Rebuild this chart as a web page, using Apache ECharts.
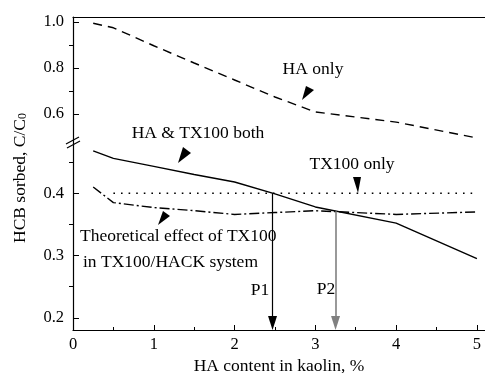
<!DOCTYPE html>
<html>
<head>
<meta charset="utf-8">
<script src="https://cdn.jsdelivr.net/npm/echarts@6/dist/echarts.min.js"></script>
<style>
  html, body { margin: 0; padding: 0; background: #fff; }
  #main { width: 485px; height: 373px; }
</style>
</head>
<body>
<div id="main"></div>
<script>
  // HA content in kaolin, %
  const haContent = [0.25, 0.5, 1, 1.5, 2, 2.5, 3, 4, 5]
  // C/C0 values
  const haOnly = [0.995, 0.975, 0.897, 0.822, 0.748, 0.674, 0.609, 0.565, 0.496]
  const haTxBoth = [0.468, 0.456, 0.443, 0.430, 0.418, 0.399, 0.378, 0.352, 0.295]
  const txOnly = [null, 0.4, 0.4, 0.4, 0.4, 0.4, 0.4, 0.4, 0.4]
  const theoretical = [0.41, 0.385, 0.377, 0.372, 0.366, 0.369, 0.372, 0.366, 0.370]
  // P1 / P2 crossing points
  const p1 = [2.47, 0.4]
  const p2 = [3.25, 0.371]

  const xTicks = [0, 1, 2, 3, 4, 5]
  const xMinor = [0.5, 1.5, 2.5, 3.5, 4.5]
  const yUpperTicks = [0.6, 0.8, 1.0]
  const yUpperMinor = [0.7, 0.9]
  const yLowerTicks = [0.2, 0.3, 0.4]
  const yLowerMinor = [0.25, 0.35, 0.45]

  const font = 'Liberation Serif'
  const pairs = (ys) => haContent.map((x, i) => [x, ys[i]])

  const dom = document.getElementById('main')
  const myChart = echarts.init(dom)

  const lowerMin = 0.1806
  const arrowEnd = lowerMin + 7 / 620

  const tickAxis = (extra) => Object.assign({
    type: 'value',
    splitLine: { show: false },
    axisLine: { show: false },
    axisLabel: { show: false },
    axisTick: { show: false }
  }, extra)

  const note = (x, y, text, align) => ({
    type: 'text', x: x, y: y,
    style: { text: text, align: align || 'center', verticalAlign: 'middle', fontFamily: font, fontSize: 17.5, fill: '#000' }
  })

  myChart.setOption({
    animation: false,
    grid: [
      { left: 73, right: 0, top: 17, height: 126, outerBoundsMode: 'none' },
      { left: 73, right: 0, top: 143, height: 187, outerBoundsMode: 'none' }
    ],
    xAxis: [
      tickAxis({ gridIndex: 0, position: 'top', min: 0, max: 5.1,
        axisLine: { show: true, onZero: false, lineStyle: { color: '#000', width: 1.2 } } }),
      tickAxis({ gridIndex: 1, position: 'bottom', min: 0, max: 5.1,
        axisLine: { show: true, onZero: false, lineStyle: { color: '#000', width: 1.2 } },
        axisTick: { show: true, inside: true, length: 5, customValues: xTicks, lineStyle: { color: '#000' } },
        axisLabel: { show: true, customValues: xTicks, margin: 6, color: '#000', fontFamily: font, fontSize: 16.5 },
        name: 'HA content in kaolin, %', nameLocation: 'middle', nameGap: 25,
        nameTextStyle: { color: '#000', fontFamily: font, fontSize: 17.5 } }),
      tickAxis({ gridIndex: 1, position: 'bottom', min: 0, max: 5.1,
        axisTick: { show: true, inside: true, length: 3, customValues: xMinor, lineStyle: { color: '#000' } } })
    ],
    yAxis: [
      tickAxis({ gridIndex: 0, min: 0.474, max: 1.022,
        axisLine: { show: true, onZero: false, lineStyle: { color: '#000', width: 1.2 } },
        axisTick: { show: true, inside: true, length: 6, customValues: yUpperTicks, lineStyle: { color: '#000' } },
        axisLabel: { show: true, customValues: yUpperTicks, margin: 9, color: '#000', fontFamily: font, fontSize: 16.5,
          formatter: (v) => v.toFixed(1) } }),
      tickAxis({ gridIndex: 0, min: 0.474, max: 1.022,
        axisTick: { show: true, inside: true, length: 4, customValues: yUpperMinor, lineStyle: { color: '#000' } } }),
      tickAxis({ gridIndex: 1, min: lowerMin, max: 0.4806,
        axisLine: { show: true, onZero: false, lineStyle: { color: '#000', width: 1.2 } },
        axisTick: { show: true, inside: true, length: 6, customValues: yLowerTicks, lineStyle: { color: '#000' } },
        axisLabel: { show: true, customValues: yLowerTicks, margin: 9, color: '#000', fontFamily: font, fontSize: 16.5,
          formatter: (v) => v.toFixed(1) } }),
      tickAxis({ gridIndex: 1, min: lowerMin, max: 0.4806,
        axisTick: { show: true, inside: true, length: 4, customValues: yLowerMinor, lineStyle: { color: '#000' } } })
    ],
    series: [
      {
        name: 'HA only', type: 'line', xAxisIndex: 0, yAxisIndex: 0,
        data: pairs(haOnly), symbol: 'none',
        lineStyle: { color: '#000', width: 1.4, type: [9, 6] }
      },
      {
        name: 'HA & TX100 both', type: 'line', xAxisIndex: 1, yAxisIndex: 2,
        data: pairs(haTxBoth), symbol: 'none',
        lineStyle: { color: '#000', width: 1.4 }
      },
      {
        name: 'TX100 only', type: 'line', xAxisIndex: 1, yAxisIndex: 2,
        data: pairs(txOnly), symbol: 'none',
        lineStyle: { color: '#000', width: 1.4, type: [1.6, 6] },
        markLine: {
          silent: true,
          symbol: ['none', 'triangle'],
          symbolSize: [9, 14],
          label: { show: false },
          data: [
            [{ coord: p1, lineStyle: { color: '#000', width: 1.2, type: 'solid' }, itemStyle: { color: '#000' } },
             { coord: [p1[0], arrowEnd] }],
            [{ coord: p2, lineStyle: { color: '#808080', width: 1.6, type: 'solid' }, itemStyle: { color: '#000' } },
             { coord: [p2[0], arrowEnd] }]
          ]
        }
      },
      {
        name: 'Theoretical', type: 'line', xAxisIndex: 1, yAxisIndex: 2,
        data: pairs(theoretical), symbol: 'none',
        lineStyle: { color: '#000', width: 1.4, type: [10, 3, 2, 3] }
      }
    ],
    graphic: [
      // axis break
      { type: 'rect', shape: { x: 70, y: 140, width: 6, height: 5 }, style: { fill: '#fff' } },
      { type: 'line', shape: { x1: 66, y1: 144, x2: 79, y2: 137 }, style: { stroke: '#000', lineWidth: 1.2 } },
      { type: 'line', shape: { x1: 67, y1: 148, x2: 80, y2: 141 }, style: { stroke: '#000', lineWidth: 1.2 } },
      // y title
      {
        type: 'text', x: 20, y: 178, rotation: Math.PI / 2,
        style: {
          text: 'HCB sorbed, C/C{sub|0}', align: 'center', verticalAlign: 'middle',
          fontFamily: font, fontSize: 17.5, fill: '#000',
          rich: { sub: { fontFamily: font, fontSize: 12, verticalAlign: 'bottom', padding: [6, 0, 0, 0] } }
        }
      },
      // annotations
      note(313, 69, 'HA only'),
      { type: 'polygon', shape: { points: [[306, 86], [314, 90], [302, 100]] }, style: { fill: '#000' } },
      note(198, 133, 'HA & TX100 both'),
      { type: 'polygon', shape: { points: [[183, 147], [191, 153], [178, 163]] }, style: { fill: '#000' } },
      note(352, 164, 'TX100 only'),
      { type: 'polygon', shape: { points: [[353, 177], [361, 177], [358, 193]] }, style: { fill: '#000' } },
      note(80, 236, 'Theoretical effect of TX100', 'left'),
      note(83, 262, 'in TX100/HACK system', 'left'),
      { type: 'polygon', shape: { points: [[163, 211], [170, 216], [158, 225]] }, style: { fill: '#000' } },
      note(260, 290, 'P1'),
      note(326, 289, 'P2')
    ]
  })
</script>
</body>
</html>
